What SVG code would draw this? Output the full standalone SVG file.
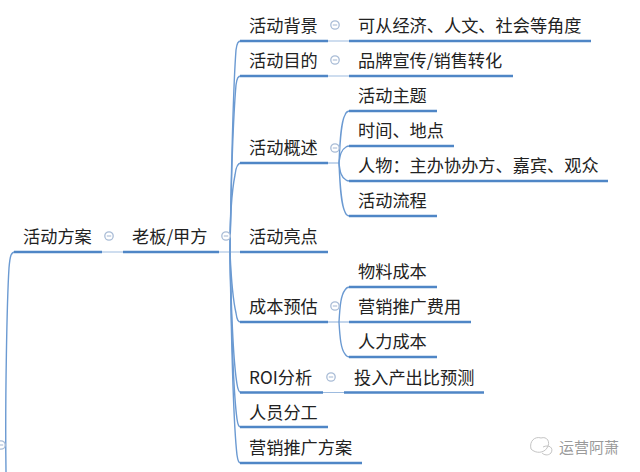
<svg xmlns="http://www.w3.org/2000/svg" width="640" height="472" viewBox="0 0 640 472">
<style>
text{font-family:"Noto Sans CJK SC","Microsoft YaHei",sans-serif;font-size:17.2px;fill:#222}
.u{stroke:#4f86c6;stroke-width:2.6;fill:none}
.l{stroke:#9dbbdf;stroke-width:1.2;fill:none}
.c{stroke:#6b9ad2;stroke-width:1.4;fill:none}
.t{fill:#fff;stroke:#a9bcd6;stroke-width:1.3}
.m{stroke:#a9bcd6;stroke-width:1.1}
.w{font-size:15px;fill:#9a9a9a}
</style>
<defs><g id="fold"><circle class="t" r="4.2"/><path class="m" d="M-2.200 0H2.200"/></g></defs>
<rect width="640" height="472" fill="#fff"/>
<g id="connectors">
<path class="c" d="M6 472C5 400 7 300 9 268C10 256 11 252 15 252"/>
<path class="l" d="M102 252H123M219 252H240M328 41H349M328 76H349M323 392.500H344"/>
<path class="c" d="M230 252C231 190 233 90 236 50C237 43 238 41 241 41"/>
<path class="c" d="M230 252C231 190 233 120 236 85C237 78 238 76 241 76"/>
<path class="c" d="M230 252C230 220 232 190 235 175C236 166 238 163 241 163"/>
<path class="c" d="M230 252C231 275 233 300 236 313C237 320 238 322 241 322"/>
<path class="c" d="M230 252C231 300 233 360 237 384C238 391 239 392.500 241 392.500"/>
<path class="c" d="M230 252C231 310 233 390 237 419C238 426 239 427 241 427"/>
<path class="c" d="M230 252C231 320 233 420 237 455C238 462 239 463 241 463"/>
<path class="l" d="M328 163H339"/>
<path class="c" d="M339 163C340 140 341 122 345 115C346 112 348 111 350 111"/>
<path class="c" d="M339 163C340 155 341 150 346 147C347 146 348 146 350 146"/>
<path class="c" d="M339 163C340 172 341 177 346 180C347 181 348 181 350 181"/>
<path class="c" d="M339 163C340 186 341 204 345 212C346 215 348 216 350 216"/>
<path class="l" d="M328 322H349"/>
<path class="c" d="M339 322C340 305 341 295 345 290C346 288 348 287 350 287"/>
<path class="c" d="M339 322C340 339 341 349 345 354C346 356 348 357 350 357"/>
</g>
<g id="n-root-fold"><use href="#fold" x="1" y="445"/></g>
<g id="n-plan"><text x="23" y="242.500">活动方案</text><path class="u" d="M14 252H102"/><use href="#fold" x="109" y="236"/></g>
<g id="n-boss"><text x="132" y="242.500">老板/甲方</text><path class="u" d="M123 252H219"/><use href="#fold" x="226" y="236"/></g>
<g id="n-bg"><text x="249" y="31.500">活动背景</text><path class="u" d="M240 41H328"/><use href="#fold" x="335" y="25"/></g>
<g id="n-bg1"><text x="358" y="31.500">可从经济、人文、社会等角度</text><path class="u" d="M349 41H591"/></g>
<g id="n-goal"><text x="249" y="66.500">活动目的</text><path class="u" d="M240 76H328"/><use href="#fold" x="335" y="60"/></g>
<g id="n-goal1"><text x="358" y="66.500">品牌宣传/销售转化</text><path class="u" d="M349 76H513"/></g>
<g id="n-overview"><text x="249" y="153.500">活动概述</text><path class="u" d="M240 163H328"/><use href="#fold" x="335" y="148"/></g>
<g id="n-theme"><text x="358" y="101.500">活动主题</text><path class="u" d="M349 111H437"/></g>
<g id="n-time"><text x="358" y="136.500">时间、地点</text><path class="u" d="M349 146H454"/></g>
<g id="n-people"><text x="358" y="171.500">人物：主办协办方、嘉宾、观众</text><path class="u" d="M349 181H608"/></g>
<g id="n-flow"><text x="358" y="206.500">活动流程</text><path class="u" d="M349 216H437"/></g>
<g id="n-high"><text x="249" y="242.500">活动亮点</text><path class="u" d="M240 252H328"/></g>
<g id="n-cost"><text x="249" y="312.500">成本预估</text><path class="u" d="M240 322H328"/><use href="#fold" x="335" y="306"/></g>
<g id="n-cost1"><text x="358" y="277.500">物料成本</text><path class="u" d="M349 287H437"/></g>
<g id="n-cost2"><text x="358" y="312.500">营销推广费用</text><path class="u" d="M349 322H471"/></g>
<g id="n-cost3"><text x="358" y="347.500">人力成本</text><path class="u" d="M349 357H437"/></g>
<g id="n-roi"><text x="249" y="383.500">ROI分析</text><path class="u" d="M240 392.500H323"/><use href="#fold" x="331" y="377"/></g>
<g id="n-roi1"><text x="354" y="383.500">投入产出比预测</text><path class="u" d="M344 392.500H484"/></g>
<g id="n-staff"><text x="249" y="418.500">人员分工</text><path class="u" d="M240 427H328"/></g>
<g id="n-mkt"><text x="249" y="453.500">营销推广方案</text><path class="u" d="M240 463H362"/></g>
<g id="watermark">
<path d="M531 449C529 441 535 436 541 438C547 436 551 442 547 448C544 453 536 454 531 449Z" fill="none" stroke="#c4c4c4" stroke-width="1"/>
<path d="M543 447C549 444 554 448 551 453C548 456 544 455 542 453" fill="none" stroke="#c4c4c4" stroke-width="1"/>
<text class="w" x="559" y="453">运营阿萧</text>
</g>
</svg>
